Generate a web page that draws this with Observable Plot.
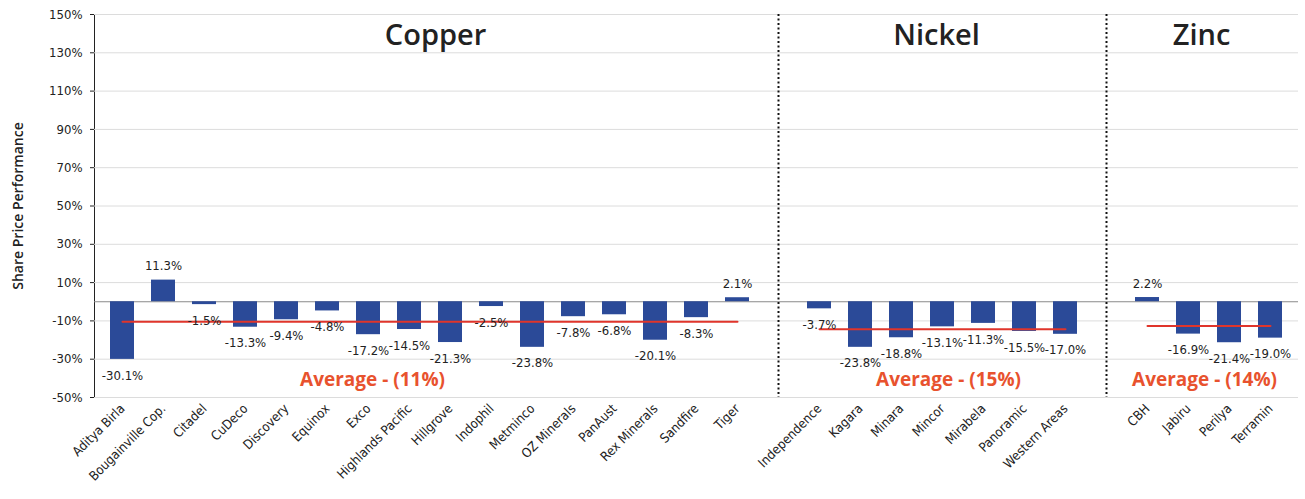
<!DOCTYPE html>
<html>
<head>
<meta charset="utf-8">
<script src="https://cdn.jsdelivr.net/npm/d3@7"></script>
<script src="https://cdn.jsdelivr.net/npm/@observablehq/plot@0.6"></script>
<style>
  body { margin: 0; background: #fff; }
</style>
</head>
<body>
<div id="chart"></div>
<script>
// companies and share price change (%) per metal
const copper = ["Aditya Birla", "Bougainville Cop.", "Citadel", "CuDeco", "Discovery", "Equinox", "Exco",
  "Highlands Pacific", "Hillgrove", "Indophil", "Metminco", "OZ Minerals", "PanAust", "Rex Minerals", "Sandfire", "Tiger"]
const copperValues = [-30.1, 11.3, -1.5, -13.3, -9.4, -4.8, -17.2, -14.5, -21.3, -2.5, -23.8, -7.8, -6.8, -20.1, -8.3, 2.1]

const nickel = ["Independence", "Kagara", "Minara", "Mincor", "Mirabela", "Panoramic", "Western Areas"]
const nickelValues = [-3.7, -23.8, -18.8, -13.1, -11.3, -15.5, -17.0]

const zinc = ["CBH", "Jabiru", "Perilya", "Terramin"]
const zincValues = [2.2, -16.9, -21.4, -19.0]

const metals = ["Copper", "Nickel", "Zinc"]
const averages = [-10.5, -14.3, -12.7]
const averageLabels = ["Average - (11%)", "Average - (15%)", "Average - (14%)"]

const yTicks = [-50, -30, -10, 10, 30, 50, 70, 90, 110, 130, 150]

const groups = [copper, nickel, zinc]
const groupValues = [copperValues, nickelValues, zincValues]

let rows = []
groups.forEach((names, g) => names.forEach((name, i) => rows.push({name, value: groupValues[g][i], metal: metals[g]})))

const domain = [...copper, "gap1", ...nickel, "gap2", ...zinc]

let avgLine = []
groups.forEach((names, g) => {
  avgLine.push({name: names[0], value: averages[g], metal: metals[g]})
  avgLine.push({name: names[names.length - 1], value: averages[g], metal: metals[g]})
})

// where titles and average labels sit (category + pixel nudge)
const titleAnchor = [["Highlands Pacific", 26], ["Mincor", -6], ["Jabiru", 13]]
const avgAnchor = [["Exco", 4], ["Mincor", 6], ["Jabiru", 16]]

const narrow = "'Liberation Sans Narrow', 'DejaVu Sans Condensed', sans-serif"
const fmt = d => d.toFixed(1) + "%"

let marks = [
  Plot.ruleY(yTicks, {stroke: "#dcdcdc", strokeWidth: 1}),
  Plot.ruleY([0], {stroke: "#8a8a8a", strokeWidth: 1}),
  Plot.ruleX(["gap1", "gap2"], {stroke: "#111", strokeWidth: 2, strokeDasharray: "2,2.5"}),
  Plot.barY(rows, {x: "name", y: "value", fill: "#2b4a98"}),
  Plot.lineY(avgLine, {x: "name", y: "value", z: "metal", stroke: "#e0352b", strokeWidth: 2}),
  Plot.text(rows.filter(d => d.value < 0), {x: "name", y: "value", text: d => fmt(d.value), dy: 16,
    fontFamily: narrow, fontSize: 13, fill: "#222"}),
  Plot.text(rows.filter(d => d.value >= 0), {x: "name", y: "value", text: d => fmt(d.value), dy: -14,
    fontFamily: narrow, fontSize: 13, fill: "#222"}),
  Plot.text(["Share Price Performance"], {frameAnchor: "left", dx: -76, rotate: -90, textAnchor: "middle",
    fontFamily: "'Open Sans', sans-serif", fontSize: 14, fontWeight: 600, fill: "#222"})
]

metals.forEach((m, g) => {
  marks.push(Plot.text([m], {x: () => titleAnchor[g][0], y: () => 139, dx: titleAnchor[g][1],
    fontFamily: "'Open Sans', sans-serif", fontWeight: 600, fontSize: 29, fill: "#222"}))
  marks.push(Plot.text([averageLabels[g]], {x: () => avgAnchor[g][0], y: () => -41, dx: avgAnchor[g][1],
    fontFamily: "'Open Sans', sans-serif", fontWeight: 700, fontSize: 19, fill: "#e8522e"}))
})

const chart = Plot.plot({
  width: 1305,
  height: 499,
  marginLeft: 94,
  marginRight: 7,
  marginTop: 14,
  marginBottom: 102,
  x: {
    type: "band",
    domain: domain,
    paddingInner: 0.42,
    paddingOuter: 0.21,
    tickFormat: d => d.startsWith("gap") ? "" : d,
    tickRotate: -45,
    tickSize: 0,
    tickPadding: 9,
    label: null
  },
  y: {
    domain: [-50, 150],
    ticks: yTicks,
    tickFormat: d => d + "%",
    tickSize: 4,
    tickPadding: 8,
    line: true,
    label: null
  },
  style: {
    fontFamily: narrow,
    fontSize: "13px",
    color: "#222",
    background: "#fff"
  },
  marks: marks
})

d3.select("#chart").append(() => chart)
</script>
</body>
</html>
